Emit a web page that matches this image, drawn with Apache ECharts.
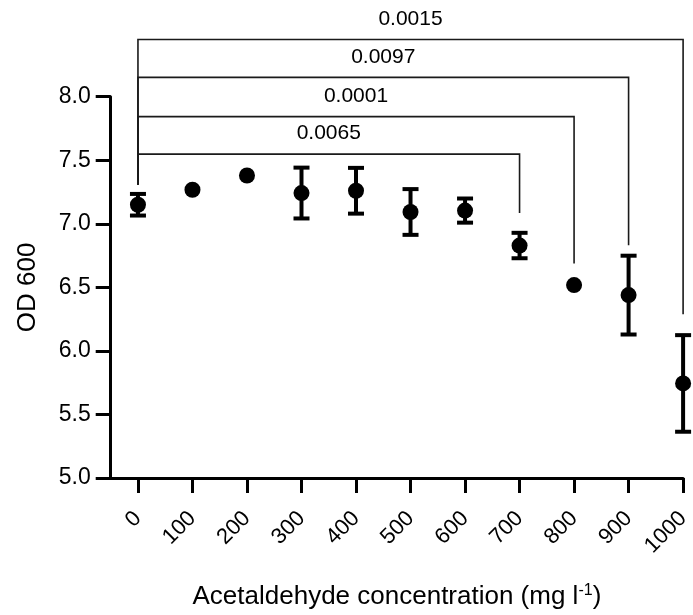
<!DOCTYPE html>
<html><head><meta charset="utf-8">
<script src="https://cdn.jsdelivr.net/npm/echarts@6/dist/echarts.min.js"></script>
<style>html,body{margin:0;padding:0;background:#fff}#c{width:693px;height:615px}</style>
</head><body><div id="c"></div>
<script>
// ---- data ----
const concentrations = [0, 100, 200, 300, 400, 500, 600, 700, 800, 900, 1000];
const odMean = [7.15, 7.268, 7.38, 7.242, 7.26, 7.093, 7.104, 6.829, 6.518, 6.439, 5.744];
const odSd = [0.085, 0, 0, 0.2, 0.18, 0.18, 0.095, 0.1, 0, 0.31, 0.38];
const xTickValues = [0, 100, 200, 300, 400, 500, 600, 700, 800, 900, 1000];
const yTickValues = [5.0, 5.5, 6.0, 6.5, 7.0, 7.5, 8.0];
// significance brackets (data space)
const bracketFrom = [0, 0, 0, 0];
const bracketTo = [700, 800, 900, 1000];
const bracketLevel = [7.548, 7.843, 8.152, 8.45];
const bracketLeftEnd = [7.307, 7.307, 7.307, 7.307];
const bracketRightEnd = [7.085, 6.688, 6.831, 6.288];
const bracketLabel = ['0.0065', '0.0001', '0.0097', '0.0015'];

const FONT = 'Liberation Sans, Arial, sans-serif';
const chart = echarts.init(document.getElementById('c'), null, {renderer: 'canvas'});

const pointData = concentrations.map((c, i) => [c, odMean[i]]);
const errData = concentrations.map((c, i) => [c, odMean[i], odSd[i]]);
const bracketData = bracketFrom.map((f, i) => [f, bracketTo[i], bracketLevel[i], bracketLeftEnd[i], bracketRightEnd[i], i]);

chart.setOption({
  animation: false,
  backgroundColor: '#fff',
  grid: {left: 110.7, right: 8.7, top: 96.7, bottom: 135.7, containLabel: false},
  xAxis: {
    type: 'value', min: -50, max: 1000,
    axisLine: {show: true, onZero: false, lineStyle: {color: '#000', width: 3}},
    axisTick: {show: true, length: 15, lineStyle: {color: '#000', width: 3}, customValues: xTickValues},
    axisLabel: {show: true, rotate: 45, margin: 37, fontSize: 22, fontFamily: FONT, color: '#000',
      customValues: xTickValues, formatter: v => String(v)},
    splitLine: {show: false},
    name: 'Acetaldehyde concentration (mg l{sup|-1})',
    nameLocation: 'middle', nameGap: 105,
    nameTextStyle: {fontSize: 26, fontFamily: FONT, color: '#000',
      rich: {sup: {fontSize: 16, fontFamily: FONT, color: '#000', verticalAlign: 'top', padding: [0, 0, 12, 0]}}}
  },
  yAxis: {
    type: 'value', min: 5, max: 8, interval: 0.5,
    axisLine: {show: true, onZero: false, lineStyle: {color: '#000', width: 3}},
    axisTick: {show: true, length: 15, lineStyle: {color: '#000', width: 3}},
    axisLabel: {show: true, margin: 20, fontSize: 23, fontFamily: FONT, color: '#000', formatter: v => v.toFixed(1)},
    splitLine: {show: false},
    name: 'OD 600', nameLocation: 'middle', nameGap: 70,
    nameTextStyle: {fontSize: 26, fontFamily: FONT, color: '#000'}
  },
  series: [
    {
      type: 'custom', clip: false, data: bracketData, silent: true,
      renderItem: function (params, api) {
        const x0 = api.value(0), x1 = api.value(1), lv = api.value(2), le = api.value(3), re = api.value(4), idx = api.value(5);
        const pL = api.coord([x0, le]);
        const pTL = api.coord([x0, lv]);
        const pTR = api.coord([x1, lv]);
        const pR = api.coord([x1, re]);
        return {
          type: 'group',
          children: [
            {type: 'polyline', shape: {points: [pL, pTL, pTR, pR]}, style: {stroke: '#1a1a1a', lineWidth: 1.6, fill: null}},
            {type: 'text', style: {text: bracketLabel[idx], x: (pTL[0] + pTR[0]) / 2, y: pTL[1] - 10,
              textAlign: 'center', textVerticalAlign: 'bottom', fontSize: 21, fontFamily: FONT, fill: '#000'}}
          ]
        };
      }
    },
    {
      type: 'custom', clip: false, data: errData, silent: true, z: 3,
      renderItem: function (params, api) {
        const x = api.value(0), m = api.value(1), sd = api.value(2);
        if (!sd) return {type: 'group', children: []};
        const top = api.coord([x, m + sd]);
        const bot = api.coord([x, m - sd]);
        const hw = 8;
        const st = {stroke: '#000', lineWidth: 4};
        return {
          type: 'group',
          children: [
            {type: 'line', shape: {x1: top[0], y1: top[1], x2: bot[0], y2: bot[1]}, style: st},
            {type: 'line', shape: {x1: top[0] - hw, y1: top[1], x2: top[0] + hw, y2: top[1]}, style: st},
            {type: 'line', shape: {x1: bot[0] - hw, y1: bot[1], x2: bot[0] + hw, y2: bot[1]}, style: st}
          ]
        };
      }
    },
    {
      type: 'scatter', data: pointData, symbol: 'circle', symbolSize: 16, z: 4,
      itemStyle: {color: '#000', opacity: 1}, silent: true
    }
  ]
});
</script>
</body></html>
